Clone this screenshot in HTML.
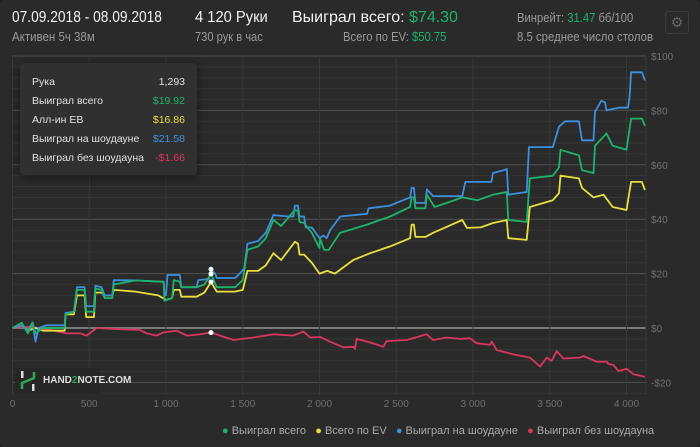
<!DOCTYPE html>
<html><head><meta charset="utf-8">
<style>
html,body{margin:0;padding:0;background:#1e1e1e;}
#wrap{position:relative;width:700px;height:447px;background:#2a2a2a;border-radius:4px;overflow:hidden;font-family:"Liberation Sans",sans-serif;}
.t{position:absolute;white-space:nowrap;transform-origin:0 0;}
.big{font-size:16px;color:#f2f2f2;}
.sm{font-size:12.5px;color:#9a9a9a;}
.g{color:#1db36b}
#tip{position:absolute;left:20px;top:63px;width:177px;height:112px;background:#303030;border-radius:4px;box-shadow:0 2px 10px rgba(0,0,0,.5);font-size:10.5px;color:#e0e0e0;}
#tip .r{position:absolute;left:12px;right:12px;display:flex;justify-content:space-between;}
</style></head><body>
<div id="wrap">
<div class="t big" style="left:12px;top:9px;transform:scaleX(0.86)">07.09.2018 - 08.09.2018</div>
<div class="t sm" style="left:12px;top:30px;transform:scaleX(0.92)">Активен 5ч 38м</div>
<div class="t big" style="left:195px;top:9px;transform:scaleX(0.92)">4 120 Руки</div>
<div class="t sm" style="left:195px;top:30px;transform:scaleX(0.89)">730 рук в час</div>
<div class="t big" style="left:292px;top:9px;">Выиграл всего: <span class="g">$74.30</span></div>
<div class="t sm" style="left:343px;top:30px;transform:scaleX(0.9)">Всего по EV: <span class="g">$50.75</span></div>
<div class="t sm" style="left:517px;top:11px;transform:scaleX(0.9)">Винрейт: <span class="g">31.47</span> бб/100</div>
<div class="t sm" style="left:517px;top:30px;transform:scaleX(0.91)">8.5 среднее число столов</div>
<div style="position:absolute;left:665px;top:11px;width:22px;height:21px;border:1px solid #3c3c3c;border-radius:3px;color:#666;font-size:14px;text-align:center;line-height:21px;">⚙</div>

<svg id="chart" width="700" height="447" style="position:absolute;left:0;top:0"></svg>

<div id="tip">
<div class="r" style="top:13px"><span>Рука</span><span>1,293</span></div>
<div class="r" style="top:32px"><span>Выиграл всего</span><span style="color:#1db36b">$19.92</span></div>
<div class="r" style="top:51px"><span>Алл-ин ЕВ</span><span style="color:#e8df3f">$16.86</span></div>
<div class="r" style="top:70px"><span>Выиграл на шоудауне</span><span style="color:#3d8fe0">$21.58</span></div>
<div class="r" style="top:89px"><span>Выиграл без шоудауна</span><span style="color:#d8365f">-$1.66</span></div>
</div>

<div style="position:absolute;left:15px;top:368px;width:85px;height:26px;background:#262626;">
<svg width="20" height="22" style="position:absolute;left:4px;top:2px"><rect x="2" y="1" width="2.5" height="7" fill="#ddd"/><rect x="13" y="14" width="2.5" height="7" fill="#ddd"/><path d="M3 19 V13 L15 8 V2" stroke="#2fa84f" stroke-width="2.5" fill="none"/></svg>
<span style="position:absolute;left:28px;top:7px;font-size:10px;font-weight:bold;color:#ddd;">HAND<span style="color:#2fa84f">2</span>NOTE.COM</span>
</div>

<div class="t" style="left:222px;top:425px;font-size:11px;color:#aaa;">
<span><span style="color:#1db36b">●</span> Выиграл всего</span>&nbsp;&nbsp;
<span><span style="color:#e8df3f">●</span> Всего по EV</span>&nbsp;&nbsp;
<span><span style="color:#3d8fe0">●</span> Выиграл на шоудауне</span>&nbsp;&nbsp;
<span><span style="color:#d8365f">●</span> Выиграл без шоудауна</span>
</div>
</div>
<script>
const xTicks=[0,500,1000,1500,2000,2500,3000,3500,4000];
const xTickLabels=["0","500","1 000","1 500","2 000","2 500","3 000","3 500","4 000"];
const yTicks=[100,80,60,40,20,0,-20];
const yTickLabels=["$100","$80","$60","$40","$20","$0","-$20"];
const blueHands=[0,60,100,130,150,170,220,340,345,400,420,470,480,530,540,580,600,650,660,800,985,990,1000,1010,1090,1100,1200,1210,1280,1293,1320,1330,1450,1480,1510,1530,1600,1650,1700,1800,1830,1840,1860,1870,1900,1910,1950,2000,2025,2046,2070,2134,2310,2320,2460,2500,2590,2600,2615,2625,2690,2700,2740,2930,2950,3120,3130,3200,3220,3230,3350,3365,3520,3560,3600,3690,3710,3785,3795,3835,3860,3870,3950,4010,4020,4030,4100,4120];
const blueVals=[0,1,-1,2,-5,0,1,1,5.5,6,15,15,8,8,15.5,15,12,12,17.6,17.5,17,12,12,19.5,19.5,15,15,17.6,18,21.6,20,18.4,18.4,20,22,31,32,35,41.5,41,41,45,45,41,41,37,37,33,34,33,36,41,42,44,45,46,48,51.5,51.5,46,46,51,48.5,48.5,53.7,53.7,57,58,58.5,49,50,66.5,66.5,74,76,76,69,69,79.5,83.5,83,80,81,81,85,94,94,91];
const greenHands=[0,60,100,130,150,200,340,345,400,420,470,480,530,540,580,600,650,660,800,985,990,1040,1050,1090,1100,1200,1250,1293,1330,1450,1500,1530,1600,1650,1700,1750,1840,1860,1870,1900,1950,2000,2003,2030,2060,2134,2310,2460,2590,2600,2615,2625,2690,2700,2750,2830,2930,3030,3130,3220,3230,3350,3370,3520,3560,3570,3690,3710,3785,3795,3870,3910,4000,4030,4100,4120];
const greenVals=[0,2,-2,2,-2,0,0,5,6,14,14,6,6,14.5,14,11,11,16,17.5,17,10,11,17.6,17,15,15,16,19.9,15,15,17.6,28.7,30,33,39.7,37.5,43.4,43,39,38.6,35,29.4,33,28.7,28.7,35,38,41,44.5,48,48,44,44,49,44.5,46,48,47,49,50,39.7,39,55,56,59,65.5,63.5,58,57,67,71.5,67,65.5,77,77,74.3];
const yellowHands=[0,60,100,150,200,340,345,400,420,470,480,530,540,580,600,650,660,800,950,1000,1040,1050,1090,1100,1200,1250,1293,1330,1450,1500,1530,1600,1650,1700,1750,1840,1860,1870,1900,1950,2000,2050,2100,2220,2330,2460,2590,2600,2615,2625,2690,2740,2930,2960,3050,3130,3220,3230,3350,3370,3520,3560,3570,3690,3710,3785,3850,3910,4000,4030,4100,4120];
const yellowVals=[0,1,-1,0,-1,-1,5,5,12,12,4,4,13,13,12,12,14,13.4,12,10.3,11,14,14,11.5,11.5,13,16.9,13.4,13.4,14,21,21,23,27.5,25,31.7,31,27,27,24,20,21,20,25,27.5,30,33,38,38,33.5,33.5,35,39.7,36.8,37,38.6,39.7,33,32.4,44.5,47,49.6,56,55,51.5,48,49,44.5,43.4,53.7,53.7,50.75];
const pinkHands=[0,114,244,353,440,483,548,678,830,874,939,983,1070,1135,1222,1293,1439,1569,1700,1830,1895,1939,2003,2068,2155,2220,2231,2242,2329,2416,2437,2568,2698,2741,2828,2915,2980,3024,3111,3122,3154,3263,3371,3437,3480,3512,3545,3589,3697,3719,3806,3871,3882,3915,3947,4001,4045,4120];
const pinkVals=[0,0.5,-0.7,-2,-2,-2.8,0,-0.4,-0.7,-2,-2.8,-1.6,-1,-2.8,-2.3,-1.7,-4.4,-3.5,-2.3,-2.8,-1.3,-3.5,-3.3,-5,-7.1,-6.9,-7.7,-4,-5.3,-6.9,-4.8,-4.4,-2.3,-4.4,-3.5,-4,-3.8,-5.6,-6.2,-5,-8.1,-9.7,-10.9,-14.2,-10.9,-12.1,-8.5,-11.2,-10.9,-10.3,-12.4,-12.4,-13.2,-13.6,-15.8,-15,-17,-17.9];

const X0=12.5, PX=0.1535, Y0=328, PY=2.72, L=12, R=646, T=56, B=395;
const xs=h=>X0+h*PX, ys=v=>Y0-v*PY;
const svg=document.getElementById('chart'), NS='http://www.w3.org/2000/svg';
function mk(tag,attrs,parent){const e=document.createElementNS(NS,tag);for(const k in attrs)e.setAttribute(k,attrs[k]);(parent||svg).appendChild(e);return e;}
for(let v=-24;v<=100;v+=4){const y=ys(v);if(y<T-1||y>B+1)continue;
 const major=v%20===0;
 const ln=mk('line',{x1:L,x2:R,y1:y,y2:y,stroke:v===0?'#7a7a7a':(major?'#505050':'#353535'),'stroke-width':v===0?2:1});
 
 }
for(const h of xTicks){const ln=mk('line',{x1:xs(h),x2:xs(h),y1:T,y2:B,stroke:'#383838'});
 
 }
mk('line',{x1:R,x2:R,y1:T,y2:B,stroke:'#383838'});
xTicks.forEach((h,i)=>{const t=mk('text',{x:xs(h),y:407,fill:'#6f6f6f','font-size':10,'text-anchor':'middle','font-family':'Liberation Sans, sans-serif'});t.textContent=xTickLabels[i];
 
 });
yTicks.forEach((v,i)=>{const t=mk('text',{x:651,y:ys(v)+4,fill:'#6f6f6f','font-size':10,'font-family':'Liberation Sans, sans-serif'});t.textContent=yTickLabels[i];
 
 });
function series(hs,vs,color,name){const p=mk('polyline',{points:hs.map((h,i)=>xs(h).toFixed(1)+','+ys(vs[i]).toFixed(1)).join(' '),fill:'none',stroke:color,'stroke-width':1.8,'stroke-linejoin':'round'});
 
 }
series(pinkHands,pinkVals,'#d8365f','series-non-showdown');
series(yellowHands,yellowVals,'#e8df3f','series-ev');
series(blueHands,blueVals,'#3d8fe0','series-showdown');
series(greenHands,greenVals,'#1db36b','series-total');
[[blueHands,blueVals],[greenHands,greenVals],[yellowHands,yellowVals],[pinkHands,pinkVals]].forEach(([hs,vs])=>{const i=hs.indexOf(1293);
 const c=mk('circle',{cx:xs(1293),cy:ys(vs[i]),r:2.5,fill:'#fff'});
 
 });
</script>
</body></html>
